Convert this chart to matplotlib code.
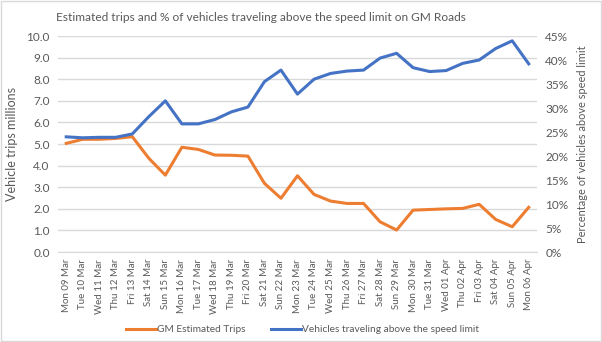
import matplotlib
matplotlib.use("Agg")
import matplotlib.pyplot as plt
from matplotlib.patches import Rectangle
from matplotlib.ticker import FuncFormatter, MultipleLocator

plt.rcParams['font.family'] = ['Lato', 'DejaVu Sans']

# Daily series, 09 Mar - 06 Apr
days = ["Mon 09 Mar", "Tue 10 Mar", "Wed 11 Mar", "Thu 12 Mar", "Fri 13 Mar",
        "Sat 14 Mar", "Sun 15 Mar", "Mon 16 Mar", "Tue 17 Mar", "Wed 18 Mar",
        "Thu 19 Mar", "Fri 20 Mar", "Sat 21 Mar", "Sun 22 Mar", "Mon 23 Mar",
        "Tue 24 Mar", "Wed 25 Mar", "Thu 26 Mar", "Fri 27 Mar", "Sat 28 Mar",
        "Sun 29 Mar", "Mon 30 Mar", "Tue 31 Mar", "Wed 01 Apr", "Thu 02 Apr",
        "Fri 03 Apr", "Sat 04 Apr", "Sun 05 Apr", "Mon 06 Apr"]

# estimated trips, millions
trips = [5.03, 5.22, 5.22, 5.26, 5.34, 4.34, 3.56, 4.85, 4.75, 4.49,
         4.48, 4.44, 3.18, 2.49, 3.53, 2.67, 2.36, 2.25, 2.25, 1.40,
         1.02, 1.94, 1.97, 2.00, 2.02, 2.21, 1.51, 1.17, 2.07]

# share of vehicles above the limit, percent
speeding = [24.0, 23.8, 23.9, 23.9, 24.6, 28.2, 31.5, 26.7, 26.7, 27.6,
            29.2, 30.2, 35.5, 37.9, 32.9, 36.0, 37.2, 37.7, 37.9, 40.4,
            41.4, 38.4, 37.6, 37.8, 39.3, 40.0, 42.4, 44.0, 39.2]

orange = '#ED7D31'
blue = '#4472C4'
txt = '#595959'
grid = '#d9d9d9'

fig = plt.figure(figsize=(6.02, 3.42), dpi=100)
ax = fig.add_axes([0.0963, 0.263, 0.7957, 0.6317])
ax2 = ax.twinx()

x = list(range(len(days)))
l1, = ax.plot(x, trips, color=orange, lw=2.2, solid_joinstyle='round',
              label="GM Estimated Trips", zorder=3)
l2, = ax2.plot(x, speeding, color=blue, lw=2.2, solid_joinstyle='round',
               label="Vehicles traveling above the speed limit", zorder=3)

ax.set_xlim(-0.5, len(days) - 0.5)
ax.set_ylim(0, 10)
ax2.set_ylim(0, 45)
ax.yaxis.set_major_locator(MultipleLocator(1))
ax2.yaxis.set_major_locator(MultipleLocator(5))
ax.yaxis.set_major_formatter(FuncFormatter(lambda v, p: "%.1f" % v))
ax2.yaxis.set_major_formatter(FuncFormatter(lambda v, p: "%d%%" % v))

ax.set_xticks(x)
ax.set_xticklabels(days, rotation=90, fontsize=7, color=txt)
ax.grid(axis='y', color=grid, lw=1)
ax.set_axisbelow(True)

for a in (ax, ax2):
    for s in a.spines.values():
        s.set_visible(False)
    a.tick_params(axis='y', length=0, colors=txt, labelsize=8.5)
ax.tick_params(axis='x', length=0, pad=5)
ax.tick_params(axis='y', pad=6)
ax2.tick_params(axis='y', pad=6)
ax.spines['bottom'].set_visible(True)
ax.spines['bottom'].set_color(grid)

ax.set_ylabel("Vehicle trips millions", fontsize=9, color=txt, labelpad=6)
ax2.set_ylabel("Percentage of vehicles above speed limit", fontsize=7.9,
               color=txt, labelpad=6)

fig.text(0.434, 0.948, "Estimated trips and % of vehicles traveling above the speed limit on GM Roads",
         ha='center', va='center', fontsize=8.6, color=txt)

fig.legend(handles=[l1, l2], loc='center', bbox_to_anchor=(0.503, 0.036),
           ncol=2, frameon=False, fontsize=7.3, labelcolor=txt,
           handlelength=2.9, handletextpad=0.15, columnspacing=2.5)

# chart border
fig.patches.append(Rectangle((0.001, 0.002), 0.997, 0.995, transform=fig.transFigure,
                             fill=False, edgecolor=grid, lw=1))

fig.savefig("out.png", dpi=100)
plt.close(fig)
